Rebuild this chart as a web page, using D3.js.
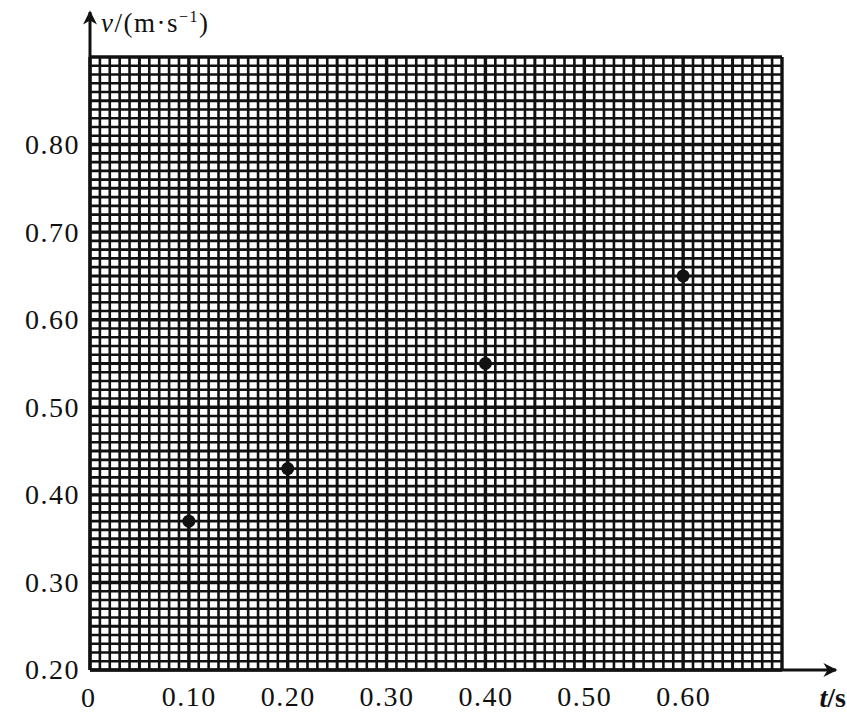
<!DOCTYPE html>
<html>
<head>
<meta charset="utf-8">
<script src="https://cdn.jsdelivr.net/npm/d3@7"></script>
<style>
  body { margin: 0; background: #fff; }
  svg { display: block; }
  .tick text { font-family: "Liberation Serif", "DejaVu Serif", serif; font-size: 28px; letter-spacing: 1.5px; fill: #111; }
</style>
</head>
<body>
<div class="chart"></div>
<script>
// measured values (t in s, v in m/s)
const tValues = [0.10, 0.20, 0.40, 0.60];
const vValues = [0.37, 0.43, 0.55, 0.65];
const xTickValues = [0.10, 0.20, 0.30, 0.40, 0.50, 0.60];
const yTickValues = [0.20, 0.30, 0.40, 0.50, 0.60, 0.70, 0.80];

document.addEventListener("DOMContentLoaded", () => {
   const fullWidth = 847;
   const fullHeight = 717;

   const svg = d3.select(".chart")
      .append("svg")
      .attr("width", fullWidth)
      .attr("height", fullHeight);

   const xScale = d3.scaleLinear()
      .domain([0, 0.70])
      .range([90, 782]);
   const yScale = d3.scaleLinear()
      .domain([0.20, 0.90])
      .range([670, 57]);

   // graph paper: one line every 0.01
   const xGrid = d3.range(0, 71).map(i => i / 100);
   const yGrid = d3.range(20, 91).map(i => i / 100);
   const lineWidth = (i) => (i % 10 === 0 ? 3.4 : (i % 5 === 0 ? 3 : 2.6));

   const grid = svg.append("g").attr("stroke", "#111");
   grid.selectAll("line.v")
      .data(xGrid)
      .enter()
      .append("line")
      .attr("class", "v")
      .attr("x1", d => xScale(d))
      .attr("x2", d => xScale(d))
      .attr("y1", yScale(0.20))
      .attr("y2", yScale(0.90))
      .attr("stroke-width", (d, i) => lineWidth(i));
   grid.selectAll("line.h")
      .data(yGrid)
      .enter()
      .append("line")
      .attr("class", "h")
      .attr("x1", xScale(0))
      .attr("x2", xScale(0.70))
      .attr("y1", d => yScale(d))
      .attr("y2", d => yScale(d))
      .attr("stroke-width", (d, i) => lineWidth(i));

   // axes with arrows
   svg.append("defs").append("marker")
      .attr("id", "arrow")
      .attr("viewBox", "0 0 10 10")
      .attr("refX", 9)
      .attr("refY", 5)
      .attr("markerWidth", 16)
      .attr("markerHeight", 14)
      .attr("markerUnits", "userSpaceOnUse")
      .attr("orient", "auto")
      .append("path")
      .attr("d", "M0,0 L10,5 L0,10 L3,5 Z")
      .attr("fill", "#111");

   svg.append("line")
      .attr("x1", xScale(0))
      .attr("x2", 836)
      .attr("y1", yScale(0.20))
      .attr("y2", yScale(0.20))
      .attr("stroke", "#111")
      .attr("stroke-width", 3)
      .attr("marker-end", "url(#arrow)");
   svg.append("line")
      .attr("x1", xScale(0))
      .attr("x2", xScale(0))
      .attr("y1", yScale(0.20))
      .attr("y2", 12)
      .attr("stroke", "#111")
      .attr("stroke-width", 3)
      .attr("marker-end", "url(#arrow)");

   const xAxis = d3.axisBottom(xScale)
      .tickValues(xTickValues)
      .tickSize(0)
      .tickPadding(16)
      .tickFormat(d3.format(".2f"));
   const yAxis = d3.axisLeft(yScale)
      .tickValues(yTickValues)
      .tickSize(0)
      .tickPadding(10)
      .tickFormat(d3.format(".2f"));

   svg.append("g")
      .attr("transform", "translate(0," + yScale(0.20) + ")")
      .call(xAxis)
      .call(g => g.select(".domain").remove());
   svg.append("g")
      .attr("transform", "translate(" + xScale(0) + ",0)")
      .call(yAxis)
      .call(g => g.select(".domain").remove());

   svg.append("text")
      .attr("x", xScale(0) - 2)
      .attr("y", 707)
      .attr("text-anchor", "middle")
      .style("font-family", "Liberation Serif, serif")
      .style("font-size", "28px")
      .style("fill", "#111")
      .text("0");

   // axis titles
   const yTitle = svg.append("text")
      .attr("x", 101)
      .attr("y", 32)
      .style("font-family", "Liberation Serif, serif")
      .style("font-size", "27px")
      .style("letter-spacing", "1.5px")
      .style("fill", "#111");
   yTitle.append("tspan").style("font-style", "italic").text("v");
   yTitle.append("tspan").text("/(m·s");
   yTitle.append("tspan").attr("dy", -10).style("font-size", "16px").text("−1");
   yTitle.append("tspan").attr("dy", 10).text(")");

   const xTitle = svg.append("text")
      .attr("x", 846)
      .attr("y", 707)
      .attr("text-anchor", "end")
      .style("font-family", "Liberation Serif, serif")
      .style("font-size", "28px")
      .style("font-weight", "bold")
      .style("fill", "#111");
   xTitle.append("tspan").style("font-style", "italic").text("t");
   xTitle.append("tspan").text("/s");

   // data points
   svg.selectAll("circle")
      .data(tValues)
      .enter()
      .append("circle")
      .attr("cx", d => xScale(d))
      .attr("cy", (d, i) => yScale(vValues[i]))
      .attr("r", 6.5)
      .attr("fill", "#111");
});
</script>
</body>
</html>
